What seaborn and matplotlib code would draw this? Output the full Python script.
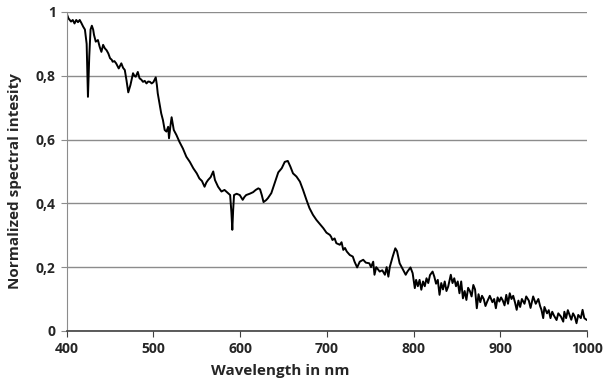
import matplotlib
matplotlib.use("Agg")
import matplotlib.pyplot as plt
import seaborn as sns
import pandas as pd

# wavelength (nm) and normalized intensity
wavelength = [400, 402, 405, 407, 409, 411, 413, 415, 417, 419, 421, 423, 424.5, 426, 427.5, 429, 430.5, 431.5,
              433.5, 436, 438, 440, 442, 444, 446, 448, 450, 452, 453, 455, 457, 460, 463, 465, 467, 469, 471,
              473.5, 476.5, 478, 479.6, 482, 484, 486, 488, 490, 492, 494, 496, 498, 500, 502.7, 504, 505, 507,
              509, 511, 513, 515, 517, 518, 519.5, 521, 523.5, 526.6, 530, 534, 538, 542, 546, 550, 553, 556,
              559, 561, 563, 566, 569, 571, 574.6, 578.5, 582, 586, 588.5, 590, 591, 592, 593, 596, 599.6, 603,
              605, 607, 611, 615, 618, 621, 623, 625, 627, 630, 632, 636, 640, 644, 648, 651.5, 655, 658, 661,
              665, 669, 672.6, 676.5, 680, 684, 688, 692, 696, 699.6, 703.5, 705, 706.5, 709, 711, 715, 717,
              719, 721, 723, 726.5, 730, 732, 735, 738, 742, 745, 749, 751, 753.5, 755, 757, 761, 764, 767,
              769, 771, 772.7, 776, 779, 781, 784, 788, 791, 793, 796.5, 799, 801.5, 803, 805, 807, 809, 811,
              813, 815, 817, 819, 822, 824, 826, 828, 830, 832, 834, 836, 838, 840, 843, 845, 847, 849, 851,
              853, 855, 857, 859, 861, 863, 865, 867, 869, 871, 873, 875, 877, 879, 881, 883, 885, 888, 891,
              893, 895, 897, 899, 901, 903, 905, 907, 909, 911, 913, 915, 917, 919, 921, 923, 925, 928, 930,
              933, 935, 938, 941, 944, 946, 947.6, 949.6, 951, 954, 956, 958, 960, 962, 965, 967, 970, 972.7,
              974, 976, 978, 980, 982, 984, 986, 988, 990, 993, 995, 997, 1000]
intensity = [0.995, 0.980, 0.970, 0.975, 0.964, 0.975, 0.968, 0.975, 0.965, 0.954, 0.945, 0.900, 0.734, 0.860,
             0.945, 0.957, 0.945, 0.928, 0.907, 0.912, 0.891, 0.875, 0.897, 0.886, 0.880, 0.870, 0.855, 0.850,
             0.844, 0.846, 0.839, 0.823, 0.839, 0.825, 0.818, 0.785, 0.748, 0.771, 0.808, 0.800, 0.797, 0.812,
             0.792, 0.788, 0.781, 0.784, 0.776, 0.782, 0.781, 0.776, 0.780, 0.795, 0.771, 0.745, 0.714, 0.682,
             0.661, 0.630, 0.625, 0.640, 0.604, 0.640, 0.670, 0.630, 0.614, 0.593, 0.572, 0.546, 0.530, 0.510,
             0.494, 0.478, 0.470, 0.452, 0.465, 0.473, 0.482, 0.500, 0.473, 0.452, 0.437, 0.442, 0.432, 0.426,
             0.370, 0.317, 0.380, 0.426, 0.430, 0.426, 0.411, 0.420, 0.426, 0.430, 0.435, 0.442, 0.447, 0.444,
             0.426, 0.404, 0.410, 0.416, 0.432, 0.465, 0.497, 0.510, 0.530, 0.533, 0.515, 0.494, 0.484, 0.468,
             0.442, 0.411, 0.385, 0.364, 0.348, 0.335, 0.322, 0.308, 0.301, 0.295, 0.285, 0.290, 0.275, 0.270,
             0.278, 0.254, 0.260, 0.249, 0.238, 0.233, 0.217, 0.199, 0.217, 0.223, 0.214, 0.212, 0.200, 0.217,
             0.176, 0.200, 0.186, 0.190, 0.176, 0.200, 0.170, 0.201, 0.233, 0.259, 0.250, 0.212, 0.191, 0.176,
             0.186, 0.199, 0.181, 0.134, 0.160, 0.140, 0.160, 0.129, 0.155, 0.140, 0.165, 0.150, 0.175, 0.186,
             0.170, 0.148, 0.160, 0.113, 0.150, 0.130, 0.155, 0.125, 0.139, 0.176, 0.150, 0.165, 0.140, 0.155,
             0.118, 0.155, 0.102, 0.125, 0.097, 0.135, 0.125, 0.108, 0.144, 0.130, 0.071, 0.115, 0.090, 0.110,
             0.100, 0.078, 0.092, 0.110, 0.090, 0.100, 0.071, 0.105, 0.092, 0.105, 0.095, 0.080, 0.113, 0.085,
             0.118, 0.100, 0.110, 0.090, 0.066, 0.095, 0.075, 0.100, 0.085, 0.108, 0.095, 0.072, 0.108, 0.085,
             0.100, 0.078, 0.066, 0.040, 0.075, 0.055, 0.065, 0.040, 0.060, 0.048, 0.034, 0.055, 0.045, 0.029,
             0.060, 0.040, 0.065, 0.050, 0.035, 0.055, 0.045, 0.024, 0.050, 0.040, 0.066, 0.040, 0.034]

x_ticks = [400, 500, 600, 700, 800, 900, 1000]
y_ticks = [0, 0.2, 0.4, 0.6, 0.8, 1]
y_labels = ["0", "0,2", "0,4", "0,6", "0,8", "1"]

df = pd.DataFrame({"wl": wavelength, "val": intensity})

sns.set_style("white")
plt.rcParams["font.family"] = ["Open Sans", "DejaVu Sans"]

fig, ax = plt.subplots(figsize=(6.12, 3.87), dpi=100)
fig.subplots_adjust(left=0.109, right=0.959, top=0.969, bottom=0.145)

ax.grid(axis="y", color="#8c8c8c", linewidth=1)
ax.set_axisbelow(True)
sns.lineplot(data=df, x="wl", y="val", color="black", linewidth=1.4, ax=ax, sort=False)

ax.set_xlim(400, 1000)
ax.set_ylim(0, 1)
ax.set_xticks(x_ticks)
ax.set_xticklabels([str(t) for t in x_ticks], fontweight="bold", fontsize=10)
ax.set_yticks(y_ticks)
ax.set_yticklabels(y_labels, fontweight="bold", fontsize=10)
ax.set_xlabel("Wavelength in nm", fontweight="bold", fontsize=11)
ax.set_ylabel("Normalized spectral intesity", fontweight="bold", fontsize=11)
ax.xaxis.set_label_coords(0.41, -0.105)
ax.yaxis.set_label_coords(-0.085, 0.47)

for s in ["top", "right"]:
    ax.spines[s].set_visible(False)
ax.spines["left"].set_color("#8c8c8c")
ax.spines["bottom"].set_color("#404040")
ax.spines["bottom"].set_linewidth(1.2)
ax.tick_params(axis="x", direction="out", length=4, color="#404040", bottom=True, pad=4)
ax.tick_params(axis="y", direction="out", length=4, color="#8c8c8c", left=True, pad=4)

fig.savefig("out.png", dpi=100)
